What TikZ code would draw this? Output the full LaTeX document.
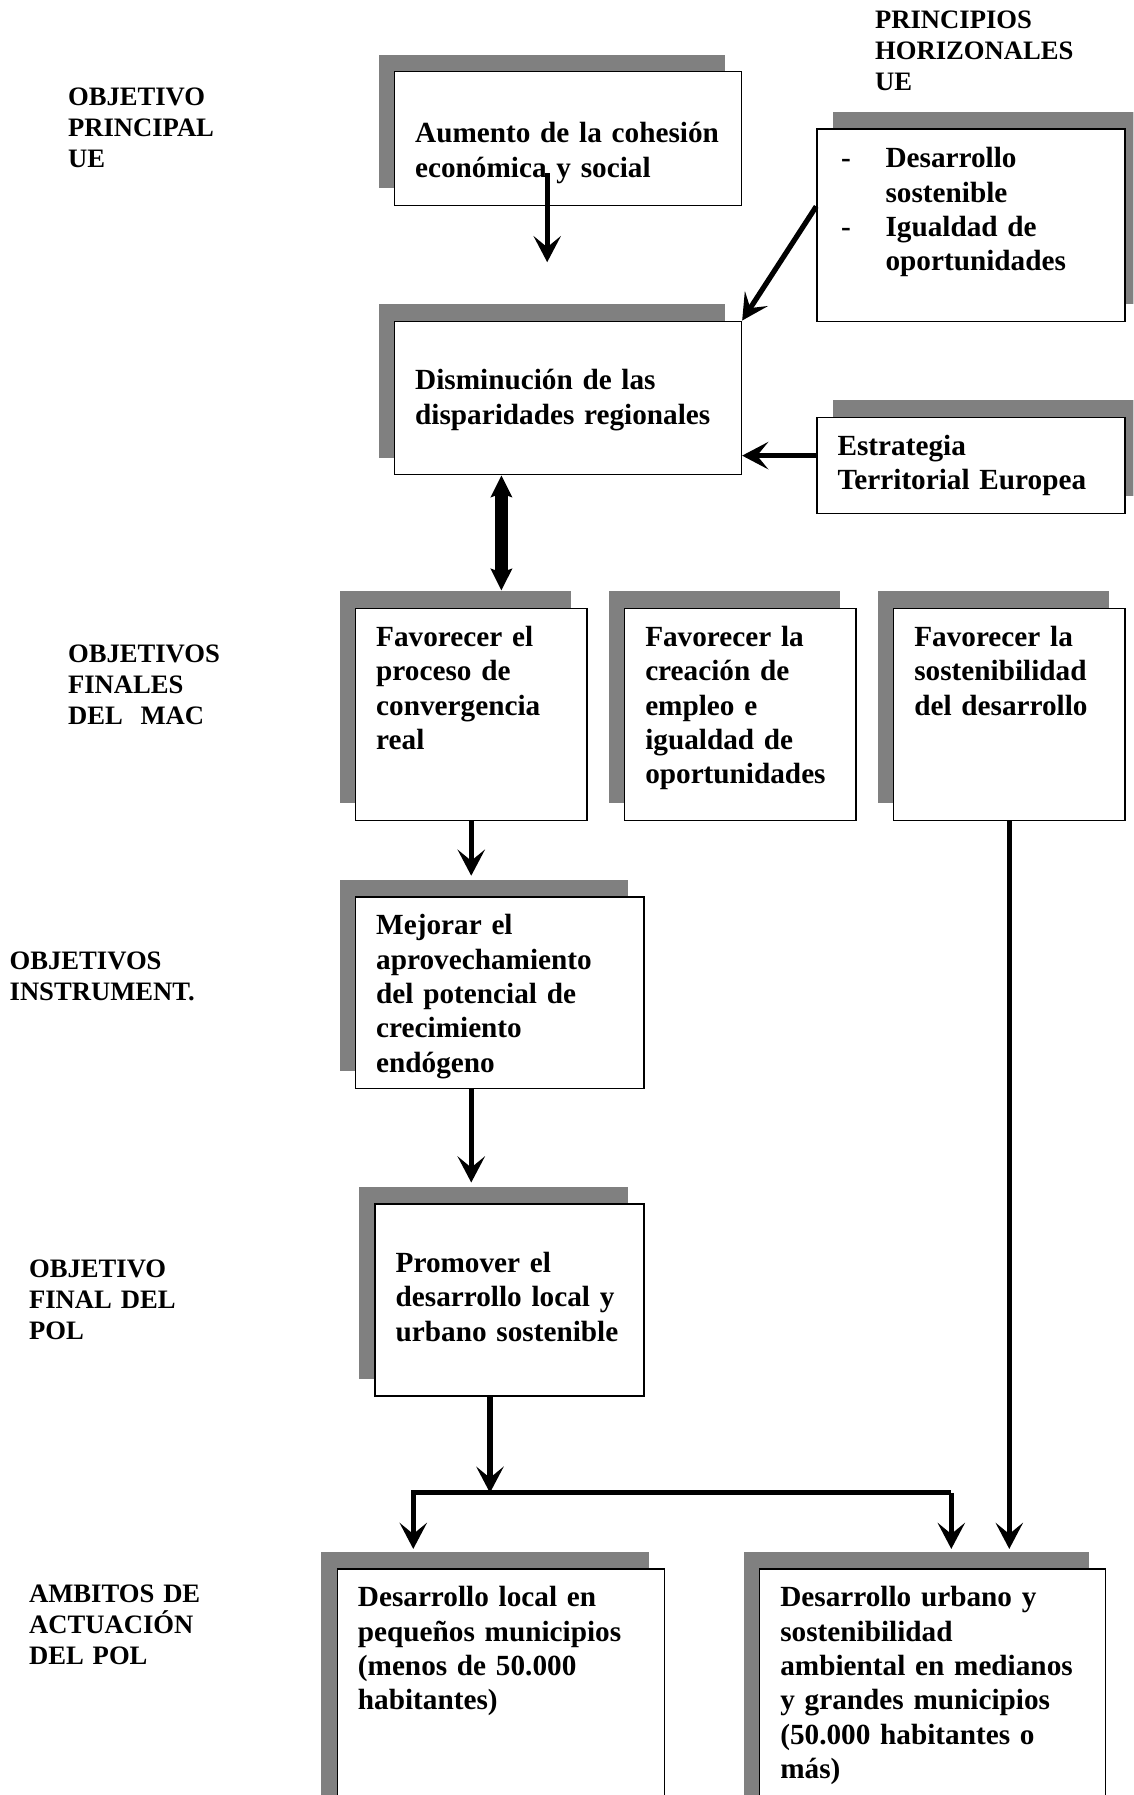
\documentclass[tikz,border=0pt]{standalone}
\usepackage{fontspec}
\setmainfont{Liberation Serif}
\usepackage{tikz}
\usetikzlibrary{arrows.meta, shadows}
\definecolor{sombra}{RGB}{128,128,128}
\newcommand{\guion}{\makebox[17.9pt][l]{-}}
\newcommand{\sangria}{\hspace*{17.9pt}}

\begin{document}
\begin{tikzpicture}[x=0.46pt, y=-0.46pt,
	caja/.style={draw, line width=0.6pt, fill=white, anchor=north west, align=left,
		inner xsep=8.28pt, inner ysep=0pt, font=\bfseries\fontsize{11.75}{13.8}\selectfont,
		general shadow={fill=sombra, shadow xshift=#1, shadow yshift=6.9pt}},
	caja/.default=-6.44pt,
	etiqueta/.style={anchor=base west, inner sep=0pt, align=left, text width=90pt,
		font=\bfseries\fontsize{10.7}{12.42}\selectfont},
	flecha/.style={-{Stealth[length=10.5pt, width=11pt, inset=4.5pt]}, line width=2.1pt},
	flecha doble/.style={{Stealth[length=8.7pt, width=8.5pt, inset=1.5pt]}-{Stealth[length=8.7pt, width=8.5pt, inset=1.5pt]}, line width=5pt}]
	\useasboundingbox (0,0) rectangle (990,1568);
	\clip (0,0) rectangle (990,1568);

	\node[etiqueta] (lab_ue) at (59,92) {OBJETIVO\\PRINCIPAL\\UE};
	\node[etiqueta] (lab_ph) at (764,25) {PRINCIPIOS\\HORIZONALES\\UE};
	\node[etiqueta] (lab_mac) at (59,579) {OBJETIVOS\\FINALES\\DEL\ \ MAC};
	\node[etiqueta] (lab_instr) at (8,847) {OBJETIVOS\\INSTRUMENT.};
	\node[etiqueta] (lab_pol) at (25,1116) {OBJETIVO\\FINAL DEL\\POL};
	\node[etiqueta] (lab_amb) at (25,1400) {AMBITOS DE\\ACTUACIÓN\\DEL POL};

	\node[caja, text width=122.82pt, text height=28.52pt, text depth=25.3pt] (obj_ue) at (344,62)
		{Aumento de la cohesión\\económica y social};
	\node[caja=6.44pt, inner xsep=9.66pt, text width=104.42pt, text height=15.64pt, text depth=61.64pt] (ph_ue) at (713,112)
		{\guion Desarrollo\\\sangria sostenible\\\guion Igualdad de\\\sangria oportunidades};
	\node[caja, text width=122.82pt, text height=27.6pt, text depth=34.04pt] (disp_reg) at (344,280)
		{Disminución de las\\disparidades regionales};
	\node[caja=6.44pt, text width=107.18pt, text height=15.18pt, text depth=23.46pt] (ete) at (713,364)
		{Estrategia\\Territorial Europea};

	\node[caja, text width=76.36pt, text height=15.18pt, text depth=69.92pt] (mac_1) at (310,531)
		{Favorecer el\\proceso de\\convergencia\\real};
	\node[caja, text width=76.36pt, text height=15.18pt, text depth=69.92pt] (mac_2) at (545,531)
		{Favorecer la\\creación de\\empleo e\\igualdad de\\oportunidades};
	\node[caja, text width=76.36pt, text height=15.18pt, text depth=69.92pt] (mac_3) at (780,531)
		{Favorecer la\\sostenibilidad\\del desarrollo};

	\node[caja, text width=99.36pt, text height=15.18pt, text depth=61.64pt] (instr) at (310,783)
		{Mejorar el\\aprovechamiento\\del potencial de\\crecimiento\\endógeno};
	\node[caja, text width=91.54pt, text height=27.6pt, text depth=49.68pt] (pol) at (327,1051)
		{Promover el\\desarrollo local y\\urbano sostenible};

	\node[caja, text width=115pt, text height=15.18pt, text depth=101.2pt] (amb_1) at (294,1370)
		{Desarrollo local en\\pequeños municipios\\(menos de 50.000\\habitantes)};
	\node[caja, text width=122.36pt, text height=15.18pt, text depth=101.2pt] (amb_2) at (663,1370)
		{Desarrollo urbano y\\sostenibilidad\\ambiental en medianos\\y grandes municipios\\(50.000 habitantes o\\más)};

	\coordinate (punta_ue) at (478,229);
	\coordinate (cruce) at (428,1304);
	\coordinate (rama_1) at (361,1304);
	\coordinate (rama_2) at (831,1304);

	\draw[flecha] (obj_ue.south -| punta_ue) ++(0,-29) -- (punta_ue);
	\draw[flecha] (ph_ue.west |- obj_ue.south) -- (disp_reg.north east);
	\draw[flecha] (ete.west |- 0,398) -- (disp_reg.east |- 0,398);
	\draw[flecha doble, shorten >=7pt] (disp_reg.south -| 438,0) -- (mac_1.north -| 438,0);
	\draw[flecha, shorten >=8.3pt] (mac_1.south) -- (mac_1.south |- instr.north);
	\draw[flecha, shorten >=8.3pt] (instr.south -| mac_1.south) -- (pol.north -| mac_1.south);
	\draw[flecha] (pol.south -| cruce) -- (cruce);
	\draw[flecha, shorten >=7.8pt, line join=miter] (rama_2) -- (rama_1) -- (rama_1 |- amb_1.north);
	\draw[flecha, shorten >=7.8pt] (rama_2) -- (rama_2 |- amb_2.north);
	\draw[flecha, shorten >=7.8pt] (mac_3.south) -- (mac_3.south |- amb_2.north);
\end{tikzpicture}
\end{document}
